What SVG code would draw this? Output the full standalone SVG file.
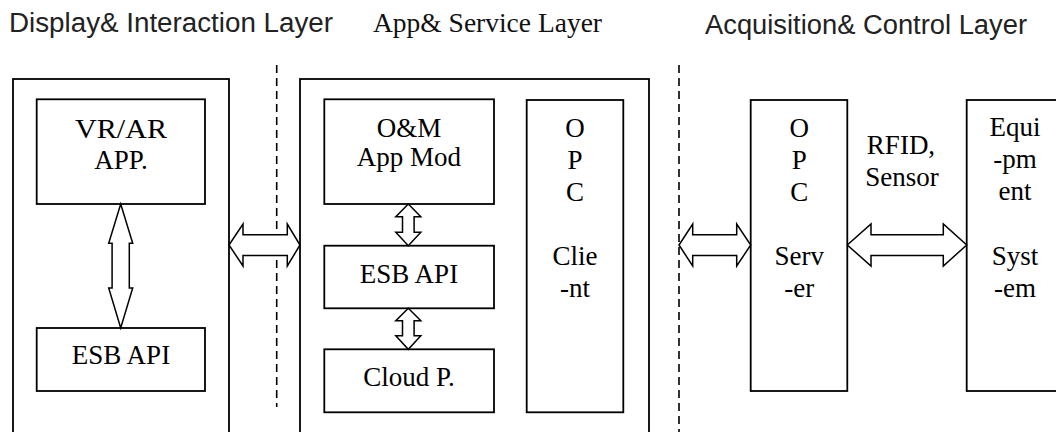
<svg xmlns="http://www.w3.org/2000/svg" width="1056" height="432" viewBox="0 0 1056 432">
<style>
.box{fill:#fff;stroke:#000;stroke-width:1.8}
.arr{fill:#fff;stroke:#000;stroke-width:1.5;stroke-linejoin:miter}
.dash{stroke:#000;stroke-width:1.6;stroke-dasharray:8 5;fill:none}
text.lbl{font-family:"Liberation Serif",serif;font-size:27px;fill:#000;text-anchor:middle}
.h{font-family:"Liberation Sans",Arial,sans-serif;font-size:27px;fill:#222}
.hs{font-family:"Liberation Serif",serif;font-size:27px;fill:#111}
</style>
<rect width="1056" height="432" fill="#fff"/>
<g id="titles">
<text class="h" x="9" y="32" textLength="324" lengthAdjust="spacingAndGlyphs">Display&amp; Interaction Layer</text>
<text class="hs" x="373" y="32" textLength="229" lengthAdjust="spacingAndGlyphs">App&amp; Service Layer</text>
<text class="h" x="705" y="34" textLength="322" lengthAdjust="spacingAndGlyphs">Acquisition&amp; Control Layer</text>
</g>
<g id="dividers">
<line class="dash" x1="276.7" y1="65" x2="276.7" y2="407"/>
<line class="dash" x1="679" y1="65" x2="679" y2="432"/>
</g>
<g id="display-layer">
<rect class="box" x="13" y="79" width="216" height="370"/>
</g>
<g id="service-layer">
<rect class="box" x="300" y="79" width="349" height="370"/>
</g>
<g id="vrar-app">
<rect class="box" x="36.7" y="99.3" width="168.3" height="104.7"/>
<text class="lbl" x="121" y="138.3" textLength="92" lengthAdjust="spacingAndGlyphs">VR/AR</text>
<text class="lbl" x="121" y="169">APP.</text>
</g>
<g id="esb-api-left">
<rect class="box" x="36.7" y="328" width="168.3" height="63"/>
<text class="lbl" x="121" y="364.3">ESB API</text>
</g>
<g id="om-app">
<rect class="box" x="324.3" y="99.3" width="169.7" height="104.7"/>
<text class="lbl" x="409" y="136.7">O&amp;M</text>
<text class="lbl" x="409" y="166">App Mod</text>
</g>
<g id="esb-api-mid">
<rect class="box" x="324.3" y="245.7" width="169.7" height="62.6"/>
<text class="lbl" x="409" y="283">ESB API</text>
</g>
<g id="cloud">
<rect class="box" x="324.3" y="349.3" width="169.7" height="63"/>
<text class="lbl" x="409" y="386">Cloud P.</text>
</g>
<g id="opc-client">
<rect class="box" x="526.7" y="100" width="96.6" height="312.3"/>
<text class="lbl" x="575" y="137">O</text>
<text class="lbl" x="575" y="169">P</text>
<text class="lbl" x="575" y="201">C</text>
<text class="lbl" x="575" y="265">Clie</text>
<text class="lbl" x="575" y="297">-nt</text>
</g>
<g id="opc-server">
<rect class="box" x="750.7" y="100" width="96.6" height="291"/>
<text class="lbl" x="799.3" y="137">O</text>
<text class="lbl" x="799.3" y="169">P</text>
<text class="lbl" x="799.3" y="201">C</text>
<text class="lbl" x="799.3" y="265">Serv</text>
<text class="lbl" x="799.3" y="297">-er</text>
</g>
<g id="equipment">
<rect class="box" x="966.7" y="100" width="100" height="291"/>
<text class="lbl" x="1015" y="136">Equi</text>
<text class="lbl" x="1015" y="168">-pm</text>
<text class="lbl" x="1015" y="200">ent</text>
<text class="lbl" x="1015" y="265">Syst</text>
<text class="lbl" x="1015" y="297">-em</text>
</g>
<g id="connectors">
<path class="arr" d="M120.7,204 L132.7,243.3 L129.3,243.3 L129.3,288 L132.7,288 L120.7,328 L108.7,288 L112.1,288 L112.1,243.3 L108.7,243.3 Z"/>
<path class="arr" d="M408.3,204 L420.8,216.7 L414.1,216.7 L414.1,232.3 L420.8,232.3 L408.3,245.7 L395.8,232.3 L402.5,232.3 L402.5,216.7 L395.8,216.7 Z"/>
<path class="arr" d="M408.3,308.3 L420.8,320.7 L414.1,320.7 L414.1,335.7 L420.8,335.7 L408.3,349.3 L395.8,335.7 L402.5,335.7 L402.5,320.7 L395.8,320.7 Z"/>
<path class="arr" d="M229,245 L243,224 L243,234.8 L287.3,234.8 L287.3,224 L300,245 L287.3,266 L287.3,255.6 L243,255.6 L243,266 Z"/>
<path class="arr" d="M679,245 L692.7,224 L692.7,234.8 L736.7,234.8 L736.7,224 L750.7,245 L736.7,266 L736.7,255.6 L692.7,255.6 L692.7,266 Z"/>
<path class="arr" d="M847.3,245 L871,224 L871,234.8 L943.3,234.8 L943.3,224 L966.7,245 L943.3,266 L943.3,255.6 L871,255.6 L871,266 Z"/>
</g>
<g id="link-label">
<text class="lbl" x="901" y="154">RFID,</text>
<text class="lbl" x="902" y="186">Sensor</text>
</g>
</svg>
